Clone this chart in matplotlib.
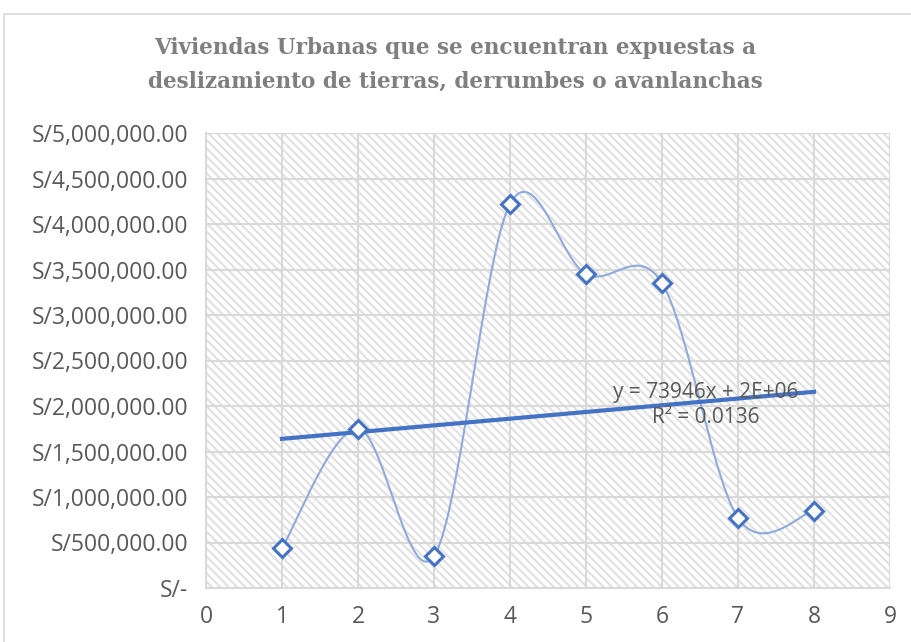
import numpy as np
import matplotlib
matplotlib.use("Agg")
import matplotlib.pyplot as plt
from matplotlib.patches import Rectangle

title = "Viviendas Urbanas que se encuentran expuestas a\ndeslizamiento de tierras, derrumbes o avanlanchas"
x_vals = [1, 2, 3, 4, 5, 6, 7, 8]
y_vals = [440000, 1750000, 350000, 4220000, 3450000, 3350000, 770000, 850000]
y_ticks = [0, 500000, 1000000, 1500000, 2000000, 2500000, 3000000, 3500000, 4000000, 4500000, 5000000]
y_ticklabels = ["S/-", "S/500,000.00", "S/1,000,000.00", "S/1,500,000.00", "S/2,000,000.00",
                "S/2,500,000.00", "S/3,000,000.00", "S/3,500,000.00", "S/4,000,000.00",
                "S/4,500,000.00", "S/5,000,000.00"]
x_ticks = [0, 1, 2, 3, 4, 5, 6, 7, 8, 9]
eq_text = "y = 73946x + 2E+06\nR² = 0.0136"

BLUE = "#4472c4"
LIGHT = "#8faadc"
GRID = "#d9d9d9"
TXT = "#595959"
LABEL_FONT = "Open Sans"

plt.rcParams['hatch.color'] = '#e2e2e2'
plt.rcParams['hatch.linewidth'] = 1.6

fig = plt.figure(figsize=(9.11, 6.42), dpi=100)
# outer chart border
fig.patches.append(Rectangle((4/911, -0.01), 1.0, (642-14)/642 + 0.01, transform=fig.transFigure,
                             fill=False, edgecolor="#d9d9d9", linewidth=1.2))

ax = fig.add_axes([206/911, 1-588/642, (890-206)/911, (588-133)/642])
ax.set_facecolor("white")
ax.patch.set_hatch('\\\\\\\\')
ax.patch.set_edgecolor('#e2e2e2')
ax.patch.set_linewidth(0)

ax.set_xlim(0, 9)
ax.set_ylim(0, 5000000)
ax.set_xticks(x_ticks)
ax.set_yticks(y_ticks)
ax.set_yticklabels(y_ticklabels)
ax.grid(True, color=GRID, linewidth=1.5)
ax.set_axisbelow(True)
for s in ["top", "right"]:
    ax.spines[s].set_visible(False)
for s in ["left", "bottom"]:
    ax.spines[s].set_color(GRID)
    ax.spines[s].set_linewidth(1.5)
ax.tick_params(length=0, labelsize=16.5, labelcolor=TXT, pad=13)
ax.tick_params(axis='x', pad=12)
for lab in ax.get_xticklabels() + ax.get_yticklabels():
    lab.set_fontfamily(LABEL_FONT)

# smoothed line (Catmull-Rom style Bezier, like Excel)
px = np.array(x_vals, dtype=float)
py = np.array(y_vals, dtype=float)
sx, sy = 76.0, 91.0 / 1e6
P = np.column_stack([px * sx, py * sy])
curve = []
n = len(P)
t = np.linspace(0, 1, 40)
for i in range(n - 1):
    p0 = P[i - 1] if i > 0 else P[i]
    p1 = P[i]
    p2 = P[i + 1]
    p3 = P[i + 2] if i + 2 < n else P[i + 1]
    c1 = p1 + (p2 - p0) / 6.0
    c2 = p2 - (p3 - p1) / 6.0
    seg = ((1 - t)[:, None] ** 3) * p1 + 3 * ((1 - t)[:, None] ** 2) * t[:, None] * c1 \
        + 3 * (1 - t)[:, None] * (t[:, None] ** 2) * c2 + (t[:, None] ** 3) * p2
    curve.append(seg)
curve = np.vstack(curve)
ax.plot(curve[:, 0] / sx, curve[:, 1] / sy, color=LIGHT, linewidth=1.5, zorder=3)

# trendline
m, b = np.polyfit(px, py, 1)
tx = np.array([1, 8], dtype=float)
ax.plot(tx, m * tx + b, color=BLUE, linewidth=3, zorder=4)

ax.plot(px, py, linestyle="none", marker="D", markersize=9, markerfacecolor="white",
        markeredgecolor=BLUE, markeredgewidth=2.2, zorder=5)

ax.text(6.58, 2010000, eq_text, ha="center", va="center", fontsize=15, color=TXT,
        family=LABEL_FONT, linespacing=1.3, zorder=6)

fig.text(0.5, 1 - 65/642, title, ha="center", va="center", fontsize=15.5, color="#7f7f7f",
         family="DejaVu Serif", fontweight="bold", linespacing=1.65)

fig.savefig("out.png", dpi=100)
